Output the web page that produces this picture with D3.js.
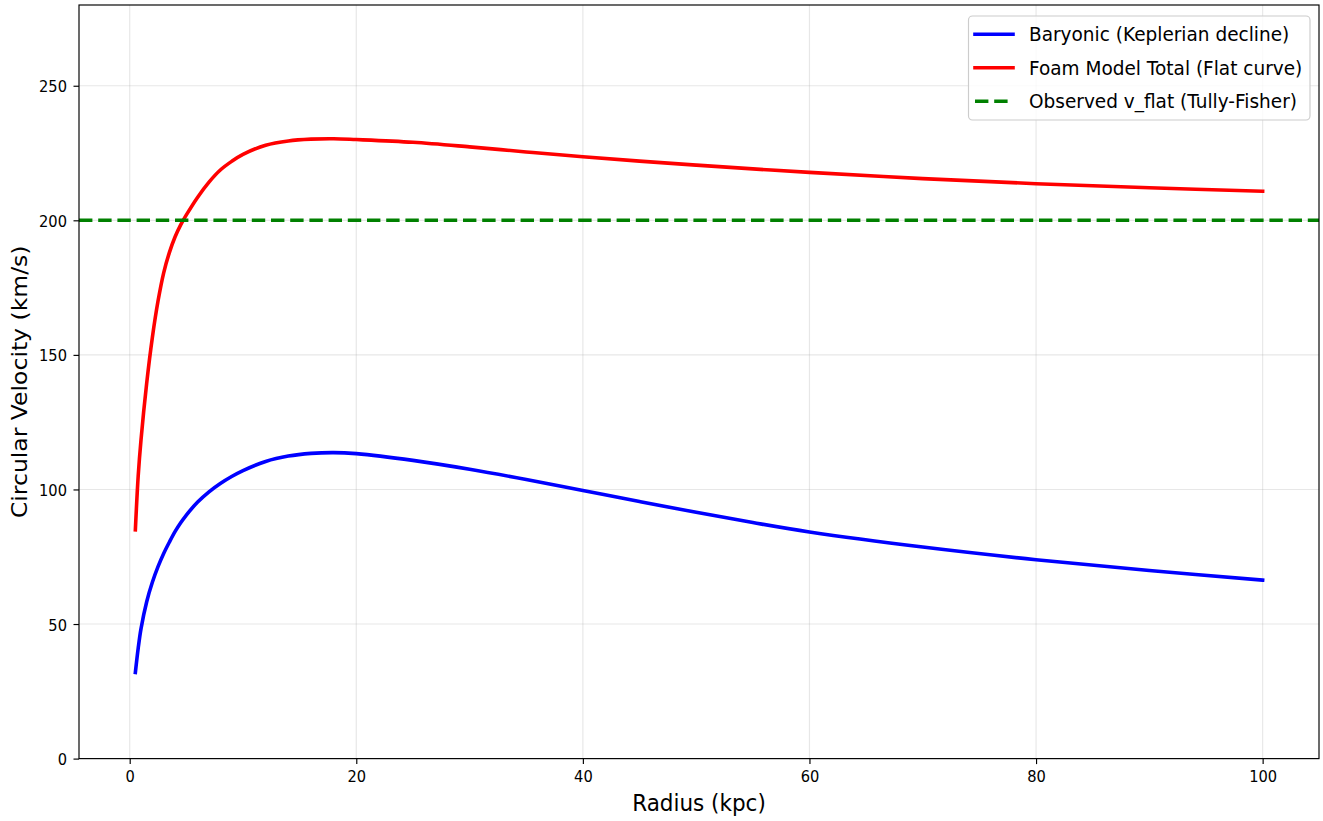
<!DOCTYPE html>
<html><head><meta charset="utf-8">
<script src="https://cdn.jsdelivr.net/npm/d3@7"></script>
<style>
body{margin:0;background:#fff}
svg{display:block}
text{font-family:"DejaVu Sans",sans-serif;fill:#000}
</style>
</head><body>
<svg id="chart" width="1323" height="821"></svg>
<script>
// ---- data ----
const radius    = [0.5, 0.75, 1, 1.5, 2, 2.5, 3, 3.5, 4, 4.5, 5, 6, 7, 8, 9, 10, 12, 14, 16, 18, 20, 25, 30, 35, 40, 45, 50, 55, 60, 70, 80, 90, 100];
const baryonic  = [32, 41, 48.3, 58.3, 65.5, 71.3, 76.2, 80.4, 84.3, 87.6, 90.5, 95.3, 99.1, 102.2, 104.8, 107.0, 110.4, 112.4, 113.4, 113.7, 113.3, 110.8, 107.5, 103.7, 99.6, 95.5, 91.5, 87.7, 84.2, 78.6, 73.9, 69.9, 66.3];
const foamTotal = [85, 105, 118.5, 139.5, 156.5, 170, 180.5, 188, 193.8, 198.3, 202, 208.6, 214.2, 218.7, 221.9, 224.5, 227.9, 229.5, 230.15, 230.3, 230.0, 229.0, 227.3, 225.4, 223.6, 222.0, 220.5, 219.1, 217.8, 215.5, 213.6, 212.1, 210.8];
const vFlat = 200;
const xTicks = [0, 20, 40, 60, 80, 100];
const yTicks = [0, 50, 100, 150, 200, 250];
const legendLabels = ["Baryonic (Keplerian decline)", "Foam Model Total (Flat curve)", "Observed v_flat (Tully-Fisher)"];
const xLabel = "Radius (kpc)";
const yLabel = "Circular Velocity (km/s)";

// ---- layout ----
const L = 79, R = 1319, T = 5, B = 758.6;
const SX = 0.915; // horizontal text compression seen in the reference
const svg = d3.select("#chart");

const x = d3.scaleLinear().domain([-4.475, 104.975]).range([L, R]);
const y = d3.scaleLinear().domain([0, 280]).range([B, T]);

// grid
const grid = svg.append("g");
grid.selectAll("line.gx").data(xTicks).join("line")
  .attr("x1", d => x(d)).attr("x2", d => x(d)).attr("y1", T).attr("y2", B)
  .attr("stroke", "#b0b0b0").attr("stroke-opacity", 0.3).attr("stroke-width", 1.16);
grid.selectAll("line.gy").data(yTicks).join("line")
  .attr("x1", L).attr("x2", R).attr("y1", d => y(d)).attr("y2", d => y(d))
  .attr("stroke", "#b0b0b0").attr("stroke-opacity", 0.3).attr("stroke-width", 1.16);

// series
const pts = (vals) => radius.map((r, i) => [r, vals[i]]);
const line = d3.line().x(d => x(d[0])).y(d => y(d[1])).curve(d3.curveCatmullRom.alpha(0.5));
const plot = svg.append("g");
plot.append("path").attr("d", line(pts(baryonic)))
  .attr("fill", "none").attr("stroke", "#0000ff").attr("stroke-width", 3.6)
  .attr("stroke-linecap", "square").attr("stroke-linejoin", "round");
plot.append("path").attr("d", line(pts(foamTotal)))
  .attr("fill", "none").attr("stroke", "#ff0000").attr("stroke-width", 3.6)
  .attr("stroke-linecap", "square").attr("stroke-linejoin", "round");
plot.append("line").attr("x1", L).attr("x2", R).attr("y1", y(vFlat)).attr("y2", y(vFlat))
  .attr("stroke", "#008000").attr("stroke-width", 3.6).attr("stroke-dasharray", "13.4,5.8");

// axes
const fixText = (sel) => sel.selectAll(".tick text").each(function () {
  const t = d3.select(this);
  const tx = +t.attr("x") || 0;
  t.attr("x", 0).attr("transform", `translate(${tx},0) scale(${SX},1)`)
   .attr("font-size", 16).attr("font-family", '"DejaVu Sans",sans-serif').attr("fill", "#000");
});
const xAxis = svg.append("g").attr("transform", `translate(0,${B})`)
  .call(d3.axisBottom(x).tickValues(xTicks).tickSize(5.5).tickPadding(7).tickSizeOuter(0).tickFormat(d3.format("d")));
xAxis.call(fixText);
const yAxis = svg.append("g").attr("transform", `translate(${L},0)`)
  .call(d3.axisLeft(y).tickValues(yTicks).tickSize(5.5).tickPadding(6.5).tickSizeOuter(0).tickFormat(d3.format("d")));
yAxis.call(fixText);
yAxis.selectAll(".tick text").attr("dy", "0.38em");
[xAxis, yAxis].forEach(a => {
  a.select(".domain").remove();
  a.selectAll(".tick line").attr("stroke", "#000").attr("stroke-width", 1.16);
});
// frame
svg.append("rect").attr("x", L).attr("y", T).attr("width", R - L).attr("height", B - T)
  .attr("fill", "none").attr("stroke", "#000").attr("stroke-width", 1.16);

// axis labels
svg.append("text").attr("transform", `translate(${(L + R) / 2},811) scale(${SX},1)`)
  .attr("text-anchor", "middle").attr("font-size", 23.5).text(xLabel);
svg.append("text").attr("transform", `translate(27,${(T + B) / 2}) scale(${SX},1) rotate(-90)`)
  .attr("text-anchor", "middle").attr("font-size", 23.5).text(yLabel);

// legend
const lg = svg.append("g");
lg.append("rect").attr("x", 968.5).attr("y", 16).attr("width", 341.5).attr("height", 104).attr("rx", 4)
  .attr("fill", "#fff").attr("fill-opacity", 0.8).attr("stroke", "#cccccc").attr("stroke-width", 1.16);
const legendStyles = [
  {color: "#0000ff", dash: null},
  {color: "#ff0000", dash: null},
  {color: "#008000", dash: "13.4,5.8"}
];
const rowY = [34.3, 67.8, 101.3];
legendLabels.forEach((lab, i) => {
  const l = lg.append("line").attr("x1", 975).attr("x2", 1013).attr("y1", rowY[i]).attr("y2", rowY[i])
    .attr("stroke", legendStyles[i].color).attr("stroke-width", 3.6);
  if (legendStyles[i].dash) l.attr("stroke-dasharray", legendStyles[i].dash);
  else l.attr("stroke-linecap", "square");
  lg.append("text").attr("transform", `translate(1029,${rowY[i] + 6.9}) scale(${SX},1)`)
    .attr("font-size", 20.2).text(lab);
});
</script>
</body></html>
